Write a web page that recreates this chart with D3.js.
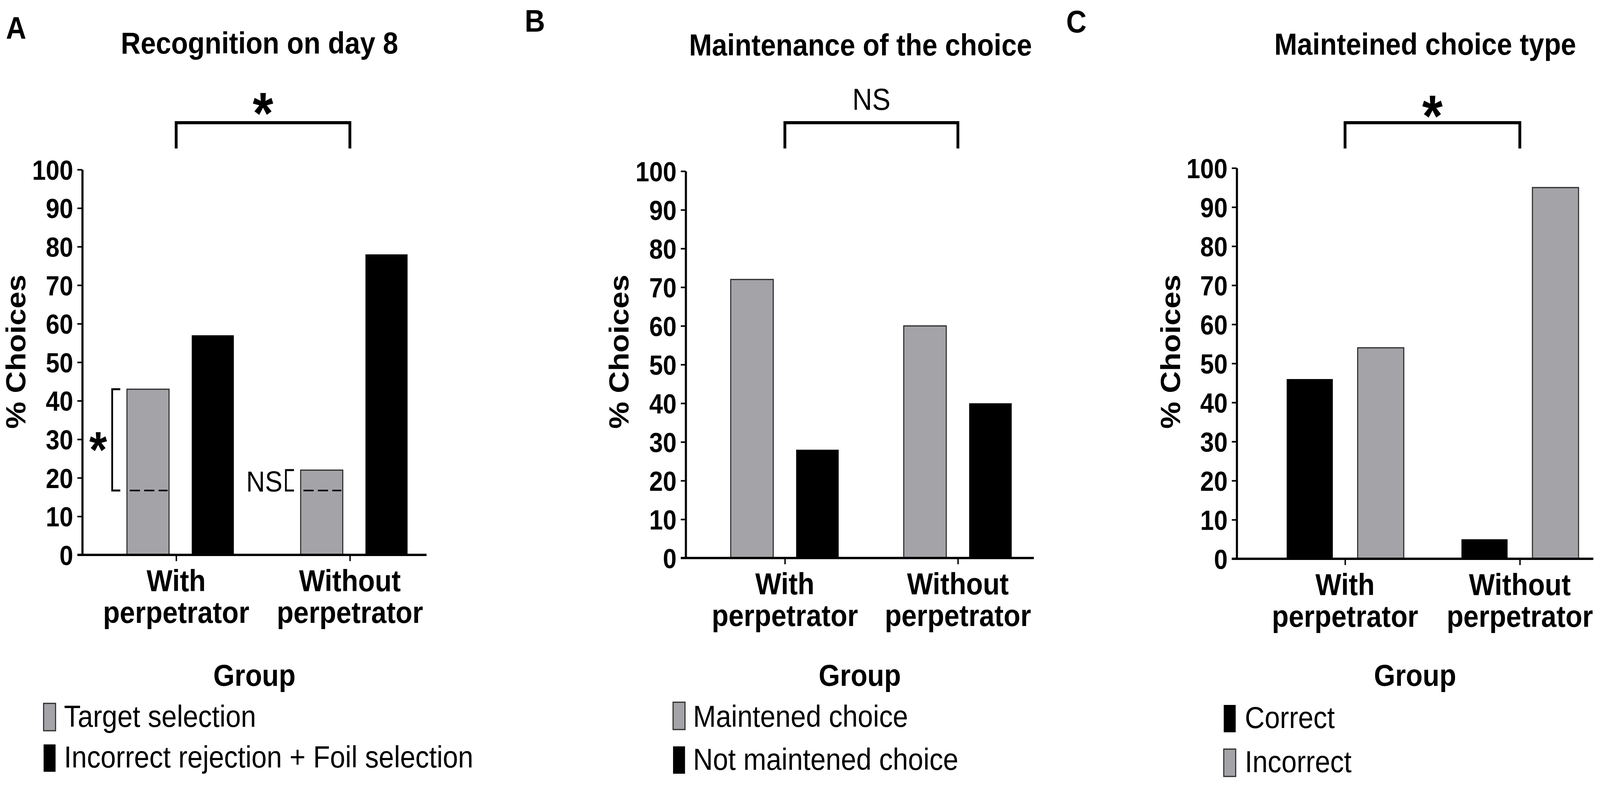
<!DOCTYPE html>
<html>
<head>
<meta charset="utf-8">
<script src="https://cdn.jsdelivr.net/npm/d3@7"></script>
<style>
  html, body { margin: 0; padding: 0; background: #fff; overflow: hidden; }
  svg { display: block; width: 100vw; height: 100vh; }
  text { font-family: "Liberation Sans", Arial, sans-serif; }
</style>
</head>
<body>
<script>
var width = 4550;
var height = 2014;

// data
var groups = ["With perpetrator", "Without perpetrator"];
var yTicks = [0, 10, 20, 30, 40, 50, 60, 70, 80, 90, 100];

var seriesA = ["Target selection", "Incorrect rejection + Foil selection"];
var targetSelection = [43, 22];
var incorrectRejection = [57, 78];
var chanceLevel = 16.7;
var sideSig = ["*", "NS"];

var seriesB = ["Maintened choice", "Not maintened choice"];
var maintained = [72, 60];
var notMaintained = [28, 40];

var seriesC = ["Correct", "Incorrect"];
var correct = [46, 5];
var incorrect = [54, 95];

var gray = "#a4a4a8";
var black = "#000";

// drawn in a 4550x2014 box, stretched to whatever the viewport is
var svg = d3.select("body")
    .append("svg")
    .attr("viewBox", "0 0 " + width + " " + height)
    .attr("preserveAspectRatio", "none");

var panels = [
  {
    letter: "A", letterX: 17, letterY: 99,
    title: "Recognition on day 8", titleX: 738, titleY: 137,
    axisX: 234, axisEnd: 1213, yTop: 434, yBot: 1420,
    ticks: [501, 995], inner: [-140, 164],
    labelX: 72,
    series: seriesA, values: [targetSelection, incorrectRejection], fills: [gray, black],
    sig: "*", sigY: 342, bracketY: 314,
    swX: 124, txX: 182, swY: [1800, 1905], txY: [1860, 1964]
  },
  {
    letter: "B", letterX: 1492, letterY: 81,
    title: "Maintenance of the choice", titleX: 2447, titleY: 142,
    axisX: 1950, axisEnd: 2940, yTop: 438, yBot: 1428,
    ticks: [2232, 2724], inner: [-154, 153],
    labelX: 1787,
    series: seriesB, values: [maintained, notMaintained], fills: [gray, black],
    sig: "NS", sigY: 281, bracketY: 314,
    swX: 1914, txX: 1971, swY: [1797, 1910], txY: [1860, 1970]
  },
  {
    letter: "C", letterX: 3032, letterY: 83,
    title: "Mainteined choice type", titleX: 4053, titleY: 140,
    axisX: 3517, axisEnd: 4531, yTop: 430, yBot: 1430,
    ticks: [3825, 4322], inner: [-166, 167],
    labelX: 3356,
    series: seriesC, values: [correct, incorrect], fills: [black, gray],
    sig: "*", sigY: 349, bracketY: 314,
    swX: 3480, txX: 3540, swY: [1804, 1917], txY: [1863, 1976]
  }
];

panels.forEach(function(p, pi) {
  var g = svg.append("g");

  var y = d3.scaleLinear().domain([0, 100]).range([p.yBot, p.yTop]);
  var x = d3.scalePoint().domain(groups).range(p.ticks);
  var xi = d3.scaleBand().domain(p.series).range(p.inner).paddingInner(0.35);

  // panel letter + title
  g.append("text")
    .attr("x", p.letterX).attr("y", p.letterY)
    .attr("font-size", "80px").attr("font-weight", "bold")
    .text(p.letter);
  g.append("text")
    .attr("x", p.titleX).attr("y", p.titleY)
    .attr("text-anchor", "middle")
    .attr("font-size", "78px").attr("font-weight", "bold")
    .text(p.title);

  // bars
  p.series.forEach(function(s, si) {
    g.selectAll(".bar" + si)
      .data(p.values[si])
      .enter()
      .append("rect")
      .attr("x", function(d, i) { return x(groups[i]) + xi(s); })
      .attr("y", function(d) { return y(d); })
      .attr("width", xi.bandwidth())
      .attr("height", function(d) { return y(0) - y(d); })
      .attr("fill", p.fills[si])
      .attr("stroke", p.fills[si] == gray ? "#2a2a2a" : "none")
      .attr("stroke-width", 3);
  });

  // y axis
  var yAxis = d3.axisLeft(y).tickValues(yTicks).tickSize(14).tickSizeOuter(0).tickPadding(12);
  var ya = g.append("g")
    .attr("transform", "translate(" + p.axisX + ",0)")
    .call(yAxis);
  ya.select(".domain").attr("stroke-width", 6);
  ya.selectAll(".tick line").attr("stroke-width", 4);
  ya.selectAll(".tick text")
    .attr("font-size", "70px").attr("font-weight", "bold")
    .attr("font-family", "'Liberation Sans', Arial, sans-serif")
    .attr("dy", "0.36em");

  // x axis line + ticks
  g.append("line")
    .attr("x1", p.axisX - 14).attr("x2", p.axisEnd)
    .attr("y1", y(0)).attr("y2", y(0))
    .attr("stroke", "#000").attr("stroke-width", 6);
  var xAxis = d3.axisBottom(x).tickSize(16).tickSizeOuter(0).tickFormat("");
  var xa = g.append("g")
    .attr("transform", "translate(0," + y(0) + ")")
    .call(xAxis);
  xa.select(".domain").remove();
  xa.selectAll(".tick line").attr("stroke-width", 4);

  // x labels, two lines
  var lab = g.selectAll(".xlab")
    .data(groups)
    .enter()
    .append("text")
    .attr("text-anchor", "middle")
    .attr("font-size", "78px").attr("font-weight", "bold");
  lab.append("tspan")
    .attr("x", function(d) { return x(d); })
    .attr("y", y(0) + 93)
    .text(function(d) { return d.split(" ")[0]; });
  lab.append("tspan")
    .attr("x", function(d) { return x(d); })
    .attr("y", y(0) + 174)
    .text(function(d) { return d.split(" ")[1]; });

  // y label
  g.append("text")
    .attr("transform", "translate(" + p.labelX + ",900) rotate(-90)")
    .attr("text-anchor", "middle")
    .attr("font-size", "78px").attr("font-weight", "bold")
    .text("% Choices");

  // "Group" heading
  g.append("text")
    .attr("x", (p.axisX + p.axisEnd) / 2).attr("y", 1755)
    .attr("text-anchor", "middle")
    .attr("font-size", "78px").attr("font-weight", "bold")
    .text("Group");

  // comparison bracket between groups
  var bx1 = x(groups[0]), bx2 = x(groups[1]);
  g.append("path")
    .attr("d", "M" + bx1 + ",380V" + p.bracketY + "H" + bx2 + "V380")
    .attr("fill", "none").attr("stroke", "#000").attr("stroke-width", 8);
  g.append("text")
    .attr("x", (bx1 + bx2) / 2).attr("y", p.sigY)
    .attr("text-anchor", "middle")
    .attr("font-size", p.sig == "*" ? "150px" : "78px")
    .attr("font-weight", p.sig == "*" ? "bold" : "normal")
    .text(p.sig);

  // legend
  p.series.forEach(function(s, si) {
    g.append("rect")
      .attr("x", p.swX).attr("y", p.swY[si])
      .attr("width", 34).attr("height", 70)
      .attr("fill", p.fills[si])
      .attr("stroke", p.fills[si] == gray ? "#2a2a2a" : "none")
      .attr("stroke-width", 3);
    g.append("text")
      .attr("x", p.txX).attr("y", p.txY[si])
      .attr("font-size", "78px")
      .text(s);
  });

  // panel A: chance level lines and brackets on target bars
  if (pi == 0) {
    var s0 = p.series[0];
    g.selectAll(".chance")
      .data(targetSelection)
      .enter()
      .append("line")
      .attr("x1", function(d, i) { return x(groups[i]) + xi(s0) + 8; })
      .attr("x2", function(d, i) { return x(groups[i]) + xi(s0) + xi.bandwidth() - 4; })
      .attr("y1", y(chanceLevel)).attr("y2", y(chanceLevel))
      .attr("stroke", "#000").attr("stroke-width", 4)
      .attr("stroke-dasharray", "29,12");

    g.selectAll(".sideBr")
      .data(targetSelection)
      .enter()
      .append("path")
      .attr("d", function(d, i) {
        var bx = x(groups[i]) + xi(s0);
        return "M" + (bx - 19) + "," + y(d) + "H" + (bx - 42) + "V" + y(chanceLevel) + "H" + (bx - 19);
      })
      .attr("fill", "none").attr("stroke", "#000").attr("stroke-width", 5);

    g.selectAll(".sideSig")
      .data(targetSelection)
      .enter()
      .append("text")
      .attr("x", function(d, i) { return x(groups[i]) + xi(s0) + (sideSig[i] == "*" ? -82 : -52); })
      .attr("y", function(d, i) {
        return sideSig[i] == "*" ? (y(d) + y(chanceLevel)) / 2 + 70 : y(chanceLevel) + 3;
      })
      .attr("text-anchor", function(d, i) { return sideSig[i] == "*" ? "middle" : "end"; })
      .attr("font-size", function(d, i) { return sideSig[i] == "*" ? "130px" : "74px"; })
      .attr("font-weight", function(d, i) { return sideSig[i] == "*" ? "bold" : "normal"; })
      .text(function(d, i) { return sideSig[i]; });
  }
});
</script>
</body>
</html>
